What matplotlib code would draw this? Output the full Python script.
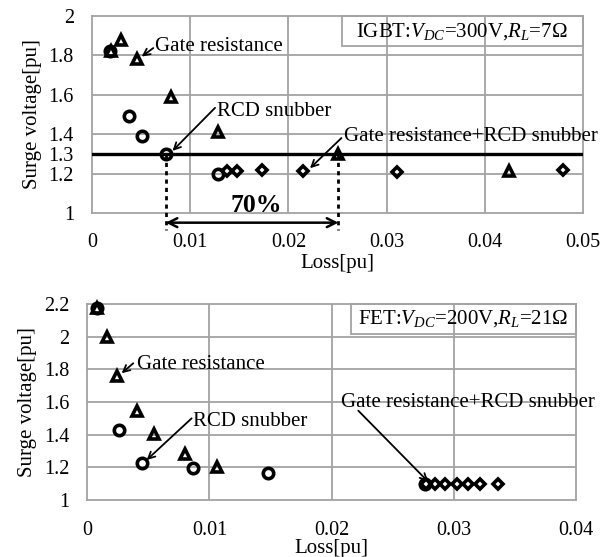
import matplotlib
matplotlib.use("Agg")
import matplotlib.pyplot as plt
from matplotlib.patches import Rectangle

plt.rcParams['font.family'] = ['Liberation Serif', 'DejaVu Serif']
plt.rcParams['mathtext.fontset'] = 'custom'
plt.rcParams['mathtext.rm'] = 'Liberation Serif'
plt.rcParams['mathtext.it'] = 'Liberation Serif:italic'

# ---------------- data: IGBT (top) ----------------
igbt_gate_x = [0.0019, 0.0030, 0.00455, 0.0080, 0.01286, 0.0251, 0.0425]
igbt_gate_y = [1.82, 1.875, 1.78, 1.59, 1.41, 1.30, 1.215]
igbt_rcd_x = [0.0018, 0.0038, 0.0051, 0.0075, 0.01286]
igbt_rcd_y = [1.82, 1.49, 1.39, 1.30, 1.20]
igbt_both_x = [0.0137, 0.0148, 0.0173, 0.0215, 0.0311, 0.0480]
igbt_both_y = [1.215, 1.215, 1.218, 1.213, 1.21, 1.218]
igbt_limit = 1.3
igbt_xticks = [0, 0.01, 0.02, 0.03, 0.04, 0.05]
igbt_xticklabels = ['0', '0.01', '0.02', '0.03', '0.04', '0.05']
igbt_yticks = [1, 1.2, 1.3, 1.4, 1.6, 1.8, 2]
igbt_yticklabels = ['1', '1.2', '1.3', '1.4', '1.6', '1.8', '2']
igbt_grid_y = [1.2, 1.4, 1.6, 1.8]

# ---------------- data: FET (bottom) ----------------
fet_gate_x = [0.00082, 0.00159, 0.00246, 0.00404, 0.00546, 0.0080, 0.01064]
fet_gate_y = [2.175, 2.0, 1.76, 1.545, 1.405, 1.282, 1.20]
fet_rcd_x = [0.00082, 0.00259, 0.00445, 0.00868, 0.01481, 0.02764]
fet_rcd_y = [2.175, 1.43, 1.224, 1.194, 1.163, 1.10]
fet_both_x = [0.02770, 0.02845, 0.02927, 0.03023, 0.03118, 0.03214, 0.03363]
fet_both_y = [1.10, 1.10, 1.10, 1.10, 1.10, 1.10, 1.10]
fet_xticks = [0, 0.01, 0.02, 0.03, 0.04]
fet_xticklabels = ['0', '0.01', '0.02', '0.03', '0.04']
fet_yticks = [1, 1.2, 1.4, 1.6, 1.8, 2, 2.2]
fet_yticklabels = ['1', '1.2', '1.4', '1.6', '1.8', '2', '2.2']

W, H = 616, 557
fig = plt.figure(figsize=(W / 100, H / 100), dpi=100)
fig.patch.set_facecolor('white')

GRID = '#a3a3a3'
FS = 15
TFS = 14.5

ax1 = fig.add_axes([92 / W, 1 - 213 / H, (583 - 92) / W, (213 - 15.7) / H])
ax2 = fig.add_axes([87.3 / W, 1 - 500 / H, (576 - 87.3) / W, (500 - 304) / H])


def style(ax, xticks, xlabels, yticks, ylabels, xlim, ylim, xpad, lpad):
    ax.set_xlim(*xlim)
    ax.set_ylim(*ylim)
    ax.set_xticks(xticks)
    ax.set_xticklabels(xlabels)
    ax.set_yticks(yticks)
    ax.set_yticklabels(ylabels)
    ax.tick_params(length=0, labelsize=TFS)
    ax.tick_params(axis='x', pad=xpad)
    ax.tick_params(axis='y', pad=13)
    for s in ax.spines.values():
        s.set_color(GRID)
        s.set_linewidth(1.3)
    ax.set_xlabel('Loss[pu]', fontsize=FS, labelpad=lpad)
    ax.set_ylabel('Surge voltage[pu]', fontsize=FS, labelpad=5)


def info_box(ax, x0, y0, xc, yc, label):
    ax.add_patch(Rectangle((x0, y0), 1 - x0, 1 - y0, transform=ax.transAxes,
                           fill=False, ec=GRID, lw=1.3, clip_on=False, zorder=2))
    ax.text(xc, yc, label, transform=ax.transAxes, ha='center', va='center',
            fontsize=FS)


MK = dict(linestyle='none', markerfacecolor='none', markeredgecolor='black',
          markeredgewidth=2.6, clip_on=False, zorder=5)
TRI_MS = 7.5
CIR_MS = 7.5
DIA_MS = 5.2

# ---------- top ----------
style(ax1, igbt_xticks, igbt_xticklabels, igbt_yticks, igbt_yticklabels,
      (0, 0.05), (1, 2), 14.5, 1.5)
for gx in igbt_xticks[1:-1]:
    ax1.axvline(gx, color=GRID, lw=1.3, zorder=1)
for gy in igbt_grid_y:
    ax1.axhline(gy, color=GRID, lw=1.3, zorder=1)
ax1.axhline(igbt_limit, color='black', lw=2.4, zorder=3)
ax1.plot(igbt_both_x, igbt_both_y, marker='D', markersize=DIA_MS, **MK)
ax1.plot(igbt_gate_x, igbt_gate_y, marker='^', markersize=TRI_MS, **MK)
ax1.plot(igbt_rcd_x, igbt_rcd_y, marker='o', markersize=CIR_MS, **MK)

AP = dict(arrowstyle='->', lw=1.3, color='black', shrinkA=0, shrinkB=0,
          mutation_scale=12)
ax1.text(0.0064, 1.845, 'Gate resistance', fontsize=FS, va='center', ha='left')
ax1.annotate('', xy=(0.00506, 1.793), xytext=(0.00624, 1.836), arrowprops=AP)
ax1.text(0.0127, 1.514, 'RCD snubber', fontsize=FS, va='center', ha='left')
ax1.annotate('', xy=(0.0082, 1.315), xytext=(0.01253, 1.533), arrowprops=AP)
ax1.text(0.0257, 1.387, 'Gate resistance+RCD snubber', fontsize=FS,
         va='center', ha='left')
ax1.annotate('', xy=(0.0222, 1.227), xytext=(0.0254, 1.38), arrowprops=AP)

# 70% reduction marker
x_a, x_b = igbt_rcd_x[3], igbt_gate_x[5]
for xv in (x_a, x_b):
    ax1.plot([xv, xv], [igbt_limit, 0.914], color='black', lw=2,
             ls=(0, (1.5, 1.5)), clip_on=False, zorder=4)
ax1.annotate('', xy=(x_a, 0.951), xytext=(x_b, 0.951), xycoords='data',
             arrowprops=dict(arrowstyle='<->', lw=1.8, color='black',
                             shrinkA=0, shrinkB=0, mutation_scale=16),
             annotation_clip=False)
ax1.text(0.01677, 1.04, '70%', fontsize=18.5, fontweight='bold', ha='center',
         va='center')

info_box(ax1, 0.509, 0.846, 0.7536, 0.922, 'IGBT:$V_{DC}$=300V,$R_L$=7Ω')

# ---------- bottom ----------
style(ax2, fet_xticks, fet_xticklabels, fet_yticks, fet_yticklabels,
      (0, 0.04), (1, 2.2), 15, -0.5)
for gx in fet_xticks[1:-1]:
    ax2.axvline(gx, color=GRID, lw=1.3, zorder=1)
for gy in fet_yticks[1:-1]:
    ax2.axhline(gy, color=GRID, lw=1.3, zorder=1)
ax2.plot(fet_both_x, fet_both_y, marker='D', markersize=DIA_MS, **MK)
ax2.plot(fet_gate_x, fet_gate_y, marker='^', markersize=TRI_MS, **MK)
ax2.plot(fet_rcd_x, fet_rcd_y, marker='o', markersize=CIR_MS, **MK)

ax2.text(0.00404, 1.827, 'Gate resistance', fontsize=FS, va='center', ha='left')
ax2.annotate('', xy=(0.00281, 1.776), xytext=(0.00376, 1.837), arrowprops=AP)
ax2.text(0.00868, 1.48, 'RCD snubber', fontsize=FS, va='center', ha='left')
ax2.annotate('', xy=(0.00486, 1.245), xytext=(0.00854, 1.50), arrowprops=AP)
ax2.text(0.02073, 1.596, 'Gate resistance+RCD snubber', fontsize=FS,
         va='center', ha='left', clip_on=False)
ax2.annotate('', xy=(0.0279, 1.112), xytext=(0.02218, 1.547), arrowprops=AP)

info_box(ax2, 0.539, 0.845, 0.769, 0.926, 'FET:$V_{DC}$=200V,$R_L$=21Ω')

fig.savefig('out.png', dpi=100)
